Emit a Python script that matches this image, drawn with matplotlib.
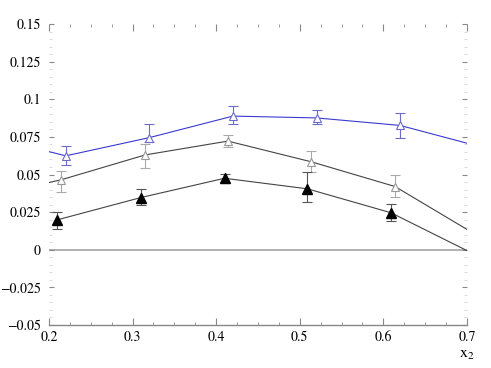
import numpy as np
import matplotlib.pyplot as plt
from matplotlib.ticker import MultipleLocator, FuncFormatter

plt.rcParams['font.family'] = ['STIXGeneral', 'Liberation Serif', 'DejaVu Serif']
plt.rcParams['mathtext.fontset'] = 'stix'

# blue series (open triangles), line runs edge to edge
blue_line_x = [0.2, 0.22, 0.32, 0.42, 0.52, 0.62, 0.7]
blue_line_y = [0.0652, 0.0624, 0.0745, 0.0888, 0.0876, 0.0826, 0.0708]
blue_x = [0.22, 0.32, 0.42, 0.52, 0.62]
blue_y = [0.0624, 0.0745, 0.0888, 0.0876, 0.0826]
blue_lo = [0.0565, 0.0719, 0.0834, 0.0834, 0.0741]
blue_hi = [0.0692, 0.0834, 0.0958, 0.0926, 0.0911]

# black open triangles
mid_line_x = [0.2, 0.214, 0.315, 0.414, 0.514, 0.614, 0.7]
mid_line_y = [0.0447, 0.0464, 0.063, 0.0722, 0.0584, 0.042, 0.0135]
mid_x = [0.214, 0.315, 0.414, 0.514, 0.614]
mid_y = [0.0464, 0.063, 0.0722, 0.0584, 0.042]
mid_lo = [0.0387, 0.0546, 0.068, 0.0515, 0.035]
mid_hi = [0.052, 0.0700, 0.076, 0.0657, 0.0498]

# black filled triangles
fill_x = [0.21, 0.31, 0.41, 0.509, 0.609, 0.707]
fill_y = [0.0199, 0.0347, 0.0475, 0.0405, 0.0246, -0.0025]
fill_lo = [0.0139, 0.0300, 0.0445, 0.0316, 0.0192, -0.0025]
fill_hi = [0.0254, 0.0403, 0.0505, 0.0515, 0.0305, -0.0025]

fig = plt.figure(figsize=(4.91, 3.68), dpi=100)
ax = fig.add_axes([0.0998, 0.1168, 0.8513, 0.818])

ax.axhline(0, color='#aaaaaa', lw=1.3, zorder=1)

# blue
ax.plot(blue_line_x, blue_line_y, color='#3a3ad0', lw=0.8, zorder=2)
ax.errorbar(blue_x, blue_y,
            yerr=[np.array(blue_y) - blue_lo, np.array(blue_hi) - blue_y],
            fmt='none', ecolor='#6b6bcc', elinewidth=0.8, capsize=3.5, capthick=0.8, zorder=3)
ax.plot(blue_x, blue_y, ls='none', marker='^', ms=6, mfc='white', mec='#6b6bcc', mew=0.8, zorder=4)

# middle
ax.plot(mid_line_x, mid_line_y, color='#444444', lw=0.8, zorder=2)
ax.errorbar(mid_x, mid_y,
            yerr=[np.array(mid_y) - mid_lo, np.array(mid_hi) - mid_y],
            fmt='none', ecolor='#aaaaaa', elinewidth=0.8, capsize=3.5, capthick=0.8, zorder=3)
ax.plot(mid_x, mid_y, ls='none', marker='^', ms=6, mfc='white', mec='#999999', mew=0.8, zorder=4)

# filled
ax.errorbar(fill_x, fill_y,
            yerr=[np.array(fill_y) - fill_lo, np.array(fill_hi) - fill_y],
            fmt='none', ecolor='#555555', elinewidth=0.8, capsize=3.5, capthick=0.8, zorder=3)
ax.plot(fill_x, fill_y, color='#444444', lw=0.8, marker='^', ms=6.5,
        mfc='black', mec='black', zorder=4)

ax.set_xlim(0.2, 0.7)
ax.set_ylim(-0.05, 0.15)

ax.xaxis.set_major_locator(MultipleLocator(0.1))
ax.xaxis.set_minor_locator(MultipleLocator(0.025))
ax.yaxis.set_major_locator(MultipleLocator(0.025))
ax.yaxis.set_minor_locator(MultipleLocator(0.005))

fmt = FuncFormatter(lambda v, p: ('%g' % round(v, 4)).replace('-', '\u2212'))
ax.xaxis.set_major_formatter(fmt)
ax.yaxis.set_major_formatter(fmt)

for s in ['left', 'top', 'right']:
    ax.spines[s].set_visible(False)
ax.spines['bottom'].set_color('#888888')
ax.spines['bottom'].set_linewidth(1.0)

ax.tick_params(which='both', direction='in', top=True, right=True, colors='#888888',
               labelcolor='black', labelsize=10)
ax.tick_params(axis='x', which='major', length=5, width=0.8, pad=4)
ax.tick_params(axis='x', which='minor', length=2.5, width=0.6)
ax.tick_params(axis='y', which='major', length=3.5, width=0.8, pad=6)
ax.tick_params(axis='y', which='minor', length=2, width=0.5, colors='#cccccc')

ax.text(0.7, -0.0655, '$\\mathrm{x}_2$', ha='center', va='top', fontsize=11.5)

fig.savefig('out.png', dpi=100)
